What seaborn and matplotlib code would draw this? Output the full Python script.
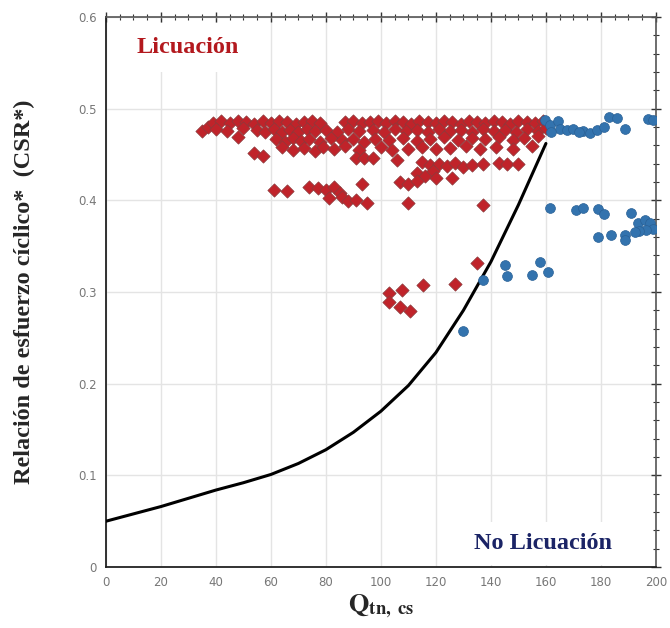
import matplotlib
matplotlib.use("Agg")
import matplotlib.pyplot as plt
import numpy as np
import pandas as pd
import seaborn as sns
from matplotlib.ticker import MultipleLocator

# límite de licuación (curva CRR)
curve_q = [0, 10, 20, 30, 40, 50, 60, 70, 80, 90, 100, 110, 120, 130, 140, 150, 160]
curve_csr = [0.050, 0.058, 0.066, 0.075, 0.084, 0.092, 0.101, 0.113, 0.128, 0.147,
             0.170, 0.198, 0.234, 0.280, 0.333, 0.395, 0.462]

# casos con licuación (rombos rojos)
liq_q = [35, 37, 39, 42, 45, 48, 51, 54, 57, 60, 63, 66, 69, 72, 75, 78, 87, 90, 93, 96,
         99, 102, 105, 108, 111, 114, 117, 120, 123, 126, 129, 132, 135, 138, 141, 144, 147,
         150, 153, 156, 159,
         40, 44, 50, 55, 58, 61, 64, 67, 70, 73, 76, 80, 84, 88, 92, 97, 101, 105, 109, 113,
         117, 121, 125, 129, 133, 137, 141, 145, 149, 153, 157, 160,
         48, 62, 65, 68, 71, 74, 78, 82, 86, 90, 94, 98, 103, 108, 113, 118, 123, 128, 133,
         138, 143, 148, 152, 157,
         54, 57, 64, 68, 72, 76, 79, 83, 87, 92, 100, 104, 110, 115, 120, 125, 131, 136, 142,
         148, 155,
         91, 94, 97, 106, 115, 118, 121, 124, 127, 130, 133, 137, 143, 146, 150,
         113, 116, 119, 120, 126, 107, 110, 113, 93,
         61, 66, 74, 77, 80, 83, 85, 81, 86, 88, 91, 95, 110, 137,
         103, 107.5, 103, 107, 110.5, 115.4, 127, 135]
liq_csr = [0.476, 0.480, 0.484, 0.486, 0.484, 0.486, 0.485, 0.483, 0.486, 0.484, 0.486, 0.485,
           0.483, 0.485, 0.486, 0.484, 0.485, 0.486, 0.484, 0.485, 0.486, 0.484, 0.486, 0.485,
           0.483, 0.486, 0.485, 0.484, 0.486, 0.485, 0.483, 0.486, 0.485, 0.484, 0.486, 0.485,
           0.483, 0.486, 0.485, 0.484, 0.486,
           0.478, 0.476, 0.479, 0.477, 0.475, 0.478, 0.474, 0.477, 0.475, 0.478, 0.476, 0.477,
           0.475, 0.478, 0.476, 0.477, 0.475, 0.478, 0.476, 0.477, 0.475, 0.478, 0.476, 0.477,
           0.475, 0.478, 0.476, 0.477, 0.475, 0.478, 0.476, 0.479,
           0.469, 0.467, 0.464, 0.468, 0.465, 0.467, 0.464, 0.468, 0.466, 0.467, 0.464, 0.467,
           0.466, 0.468, 0.465, 0.467, 0.469, 0.466, 0.468, 0.467, 0.469, 0.466, 0.468, 0.470,
           0.452, 0.448, 0.458, 0.455, 0.457, 0.454, 0.458, 0.456, 0.459, 0.455, 0.458, 0.455,
           0.456, 0.458, 0.456, 0.457, 0.459, 0.456, 0.458, 0.456, 0.459,
           0.446, 0.446, 0.446, 0.444, 0.442, 0.438, 0.440, 0.437, 0.441, 0.436, 0.439, 0.440,
           0.441, 0.440, 0.440,
           0.430, 0.426, 0.432, 0.424, 0.424, 0.420, 0.418, 0.421, 0.418,
           0.411, 0.410, 0.414, 0.413, 0.411, 0.415, 0.408, 0.402, 0.404, 0.399, 0.400, 0.397,
           0.397, 0.395,
           0.299, 0.302, 0.289, 0.284, 0.279, 0.308, 0.309, 0.332]

# casos sin licuación (círculos azules)
noliq_q = [159.6, 161.5, 164.4, 165, 167.6, 170, 173.5, 176, 178.5, 181, 183, 186, 188.7,
           197, 199, 162, 172,
           161.5, 171, 173.6, 179, 181, 191, 193.6, 196, 198, 199, 196.3, 194, 179, 183.5,
           188.7, 188.7, 192.4,
           137.2, 145, 145.7, 154.8, 157.8, 160.8, 130]
noliq_csr = [0.488, 0.482, 0.486, 0.478, 0.477, 0.478, 0.476, 0.473, 0.477, 0.480, 0.491,
             0.490, 0.478, 0.489, 0.488, 0.475, 0.474,
             0.392, 0.389, 0.392, 0.391, 0.385, 0.386, 0.375, 0.379, 0.375, 0.369, 0.368,
             0.367, 0.360, 0.362, 0.362, 0.357, 0.366,
             0.313, 0.329, 0.317, 0.319, 0.333, 0.322, 0.258]

x_ticks = [0, 20, 40, 60, 80, 100, 120, 140, 160, 180, 200]
y_ticks = [0, 0.1, 0.2, 0.3, 0.4, 0.5, 0.6]
y_tick_labels = ["0", "0.1", "0.2", "0.3", "0.4", "0.5", "0.6"]

sns.set_style("whitegrid")
plt.rcParams["mathtext.fontset"] = "stix"

fig = plt.figure(figsize=(6.70, 6.28), dpi=100)
ax = fig.add_axes([0.158, 0.097, 0.821, 0.876])

curve = pd.DataFrame({"q": curve_q, "csr": curve_csr})
liq = pd.DataFrame({"q": liq_q, "csr": liq_csr})
noliq = pd.DataFrame({"q": noliq_q, "csr": noliq_csr})

sns.lineplot(data=curve, x="q", y="csr", color="black", linewidth=2.2, ax=ax, zorder=3)
sns.scatterplot(data=liq, x="q", y="csr", marker="D", s=46, color="#c0232a",
                edgecolor="#8a3b3d", linewidth=0.5, ax=ax, zorder=4)
sns.scatterplot(data=noliq, x="q", y="csr", marker="o", s=50, color="#3373ae",
                edgecolor="#2a6196", linewidth=0.5, ax=ax, zorder=4)

ax.set_xlim(0, 200)
ax.set_ylim(0, 0.6)
ax.set_xticks(x_ticks)
ax.set_yticks(y_ticks)
ax.set_yticklabels(y_tick_labels)
ax.xaxis.set_minor_locator(MultipleLocator(5))
ax.yaxis.set_minor_locator(MultipleLocator(0.02))
ax.grid(True, which="major", color="#e4e4e4", linewidth=1)
ax.grid(False, which="minor")
ax.tick_params(which="major", direction="inout", length=7, width=1, color="#333333",
               labelsize=8.5, labelcolor="#777777", top=True, right=True,
               labeltop=False, labelright=False, pad=3)
ax.tick_params(which="minor", direction="inout", length=4, width=0.8, color="#333333",
               top=True, right=True)
for side in ["left", "bottom"]:
    ax.spines[side].set_color("#222222")
    ax.spines[side].set_linewidth(1.3)
for side in ["top", "right"]:
    ax.spines[side].set_color("#555555")
    ax.spines[side].set_linewidth(1.2)

ax.set_xlabel(r"$\mathbf{Q}_{\mathbf{tn,\ cs}}$", fontsize=19, labelpad=2)
ax.set_ylabel("Relación de esfuerzo cíclico*  (CSR*)", fontsize=17.5,
              fontfamily="Liberation Serif", fontweight="bold", labelpad=31)

ax.text(11, 0.567, "Licuación", color="#b3191e", fontsize=17.5, fontweight="bold",
        fontfamily="Liberation Serif", va="center", ha="left", zorder=5,
        bbox=dict(facecolor="white", edgecolor="none", pad=10))
ax.text(184, 0.026, "No Licuación", color="#1b2466", fontsize=17.5, fontweight="bold",
        fontfamily="Liberation Serif", va="center", ha="right", zorder=5,
        bbox=dict(facecolor="white", edgecolor="none", pad=8))

fig.savefig("out.png", dpi=100)
